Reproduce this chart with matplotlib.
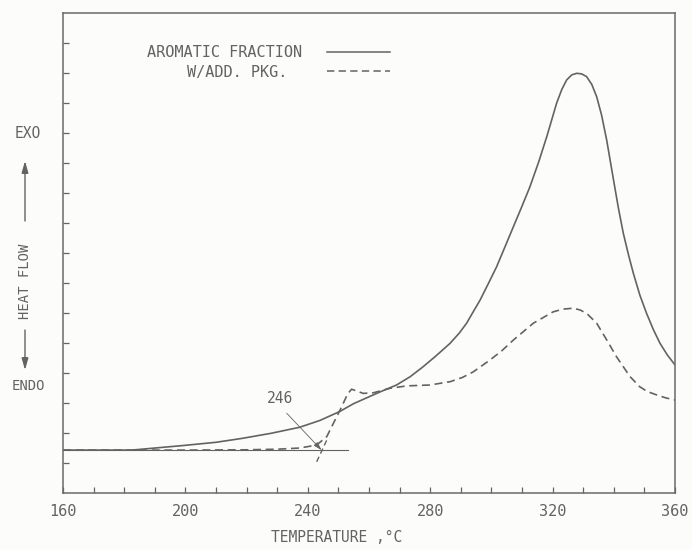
import matplotlib

matplotlib.use("Agg")
import matplotlib.pyplot as plt  # noqa: E402
from matplotlib.lines import Line2D  # noqa: E402

# DSC trace, aromatic fraction (solid)
arom_t = [160, 182.4, 199, 210, 218.5, 228, 237.3, 244, 250.5, 255, 261.4, 265, 269,
          273.5, 277.7, 282, 286.5, 289.5, 291.9, 294, 296.3, 299, 301.7, 304.5,
          307.2, 310, 312.6, 315.5, 318.1, 321.3, 323, 324.6, 326.3, 327.9, 329.5,
          331.1, 332.8, 334.4, 336, 337.7, 339.8, 341.5, 343.1, 344.8, 346.4, 348.5,
          350.7, 353, 355.1, 357.5, 360]
arom_y = [1.43, 1.43, 1.58, 1.69, 1.82, 1.99, 2.19, 2.42, 2.72, 2.98, 3.27, 3.43, 3.6,
          3.88, 4.21, 4.58, 4.99, 5.33, 5.66, 6.03, 6.43, 6.98, 7.54, 8.22,
          8.88, 9.56, 10.21, 11.05, 11.88, 12.99, 13.45, 13.77, 13.94, 13.99, 13.97,
          13.88, 13.62, 13.21, 12.6, 11.75, 10.5, 9.5, 8.66, 7.94, 7.32, 6.6,
          5.99, 5.43, 4.99, 4.6, 4.27]

# with additive package (dashed)
pkg_t = [160, 200, 220, 230, 237.5, 242.9, 246.2, 248.5, 251.1, 253, 254.3, 256, 258.1,
         261.4, 266.9, 272.3, 279.9, 286.5, 290.5, 294.1, 299.5, 303.5, 307.2, 313.7,
         320.2, 323.5, 326.8, 329, 331.1, 334.4, 337.7, 340.9, 345.3, 348.5, 351,
         354, 357, 360]
pkg_y = [1.43, 1.43, 1.44, 1.46, 1.5, 1.6, 1.88, 2.35, 2.88, 3.3, 3.46, 3.4, 3.32,
         3.34, 3.49, 3.57, 3.6, 3.71, 3.85, 4.04, 4.43, 4.75, 5.1, 5.66,
         6.04, 6.13, 6.16, 6.1, 5.99, 5.66, 5.1, 4.54, 3.88, 3.54, 3.38,
         3.27, 3.17, 3.1]

# onset construction
base_t = [160, 253.1]
base_y = [1.43, 1.43]
tan_t = [242.9, 246.5]
tan_y = [1.04, 1.83]
onset_label = "246"
onset_label_xy = (230.9, 3.16)
onset_from = (233.1, 2.66)
onset_to = (244.5, 1.43)

xticks = [160, 200, 240, 280, 320, 360]
xtick_labels = ["160", "200", "240", "280", "320", "360"]

INK = "#636363"
BG = "#fcfcfa"
FONT = "DejaVu Sans Mono"
DASH = (0, (4.8, 2.8))

fig = plt.figure(figsize=(6.92, 5.5), dpi=100, facecolor=BG)
ax = fig.add_axes([63 / 692, 57 / 550, 612 / 692, 480 / 550], facecolor=BG)

ax.plot(arom_t, arom_y, color=INK, lw=1.2, solid_joinstyle="round")
ax.plot(pkg_t, pkg_y, color=INK, lw=1.2, linestyle=DASH)
ax.plot(base_t, base_y, color=INK, lw=0.8)
ax.plot(tan_t, tan_y, color=INK, lw=1.0, linestyle=(0, (4, 2.5)))
ax.text(*onset_label_xy, onset_label, family=FONT, fontsize=10.5, color=INK,
        ha="center", va="center")
ax.annotate("", xy=onset_to, xytext=onset_from,
            arrowprops=dict(arrowstyle="-|>,head_length=0.5,head_width=0.15",
                            color=INK, lw=0.6, shrinkA=0, shrinkB=0))

ax.set_xlim(160, 360)
ax.set_ylim(0, 16)
ax.set_xticks(xticks)
ax.set_xticklabels(xtick_labels, family=FONT, fontsize=11, color=INK)
ax.set_xticks(range(170, 360, 10), minor=True)
ax.set_yticks(range(1, 16))
ax.set_yticklabels([])
ax.tick_params(axis="both", which="both", direction="in", length=4, width=0.9,
               color=INK, pad=8)
for s in ax.spines.values():
    s.set_color("#6a6a6a")
    s.set_linewidth(1.1)

# legend drawn by hand like the plotter did
ax.text(0.3905, 0.917, "AROMATIC FRACTION", transform=ax.transAxes, family=FONT,
        fontsize=11, color=INK, ha="right", va="center")
ax.text(0.366, 0.875, "W/ADD. PKG.", transform=ax.transAxes, family=FONT,
        fontsize=11, color=INK, ha="right", va="center")
ax.add_line(Line2D([0.431, 0.534], [0.919, 0.919], transform=ax.transAxes,
                   color=INK, lw=1.1))
ax.add_line(Line2D([0.431, 0.534], [0.879, 0.879], transform=ax.transAxes,
                   color=INK, lw=1.1, linestyle=DASH))

fig.text(337 / 692, 1 - 538 / 550, "TEMPERATURE ,°C", family=FONT, fontsize=10.5,
         color=INK, ha="center", va="center")

# heat flow label on the left
fig.text(28 / 692, 1 - 133 / 550, "EXO", family=FONT, fontsize=10.5, color=INK,
         ha="center", va="center")
fig.text(28 / 692, 1 - 386 / 550, "ENDO", family=FONT, fontsize=10, color=INK,
         ha="center", va="center")
fig.text(25 / 692, 1 - 281 / 550, "HEAT FLOW", family=FONT, fontsize=10, color=INK,
         ha="center", va="center", rotation=90)
arrow = dict(arrowstyle="-|>,head_length=0.7,head_width=0.2", color=INK, lw=1.0,
             shrinkA=0, shrinkB=0)
ax.annotate("", xy=(25, 550 - 161), xytext=(25, 550 - 221),
            xycoords="figure pixels", textcoords="figure pixels", arrowprops=arrow)
ax.annotate("", xy=(25, 550 - 370), xytext=(25, 550 - 330),
            xycoords="figure pixels", textcoords="figure pixels", arrowprops=arrow)

fig.savefig("out.png", dpi=100, facecolor=BG)
